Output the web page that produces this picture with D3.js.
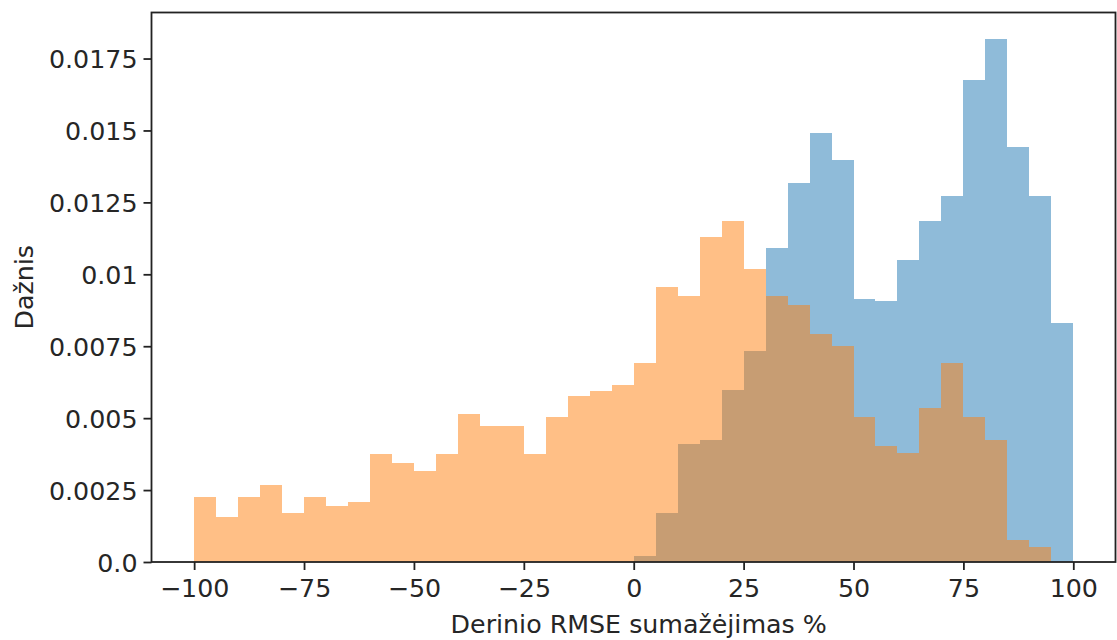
<!DOCTYPE html>
<html>
<head>
<meta charset="utf-8">
<script src="https://cdn.jsdelivr.net/npm/d3@7"></script>
<style>
  body { margin: 0; background: #fff; }
  text { font-family: "DejaVu Sans", sans-serif; fill: #262626; }
</style>
</head>
<body>
<section></section>
<script>
// bin edges: -100 .. 100 step 5
const binStarts = [-100, -95, -90, -85, -80, -75, -70, -65, -60, -55, -50, -45, -40, -35, -30, -25, -20, -15, -10, -5,
  0, 5, 10, 15, 20, 25, 30, 35, 40, 45, 50, 55, 60, 65, 70, 75, 80, 85, 90, 95];
const binWidth = 5;

const blueValues = [0, 0, 0, 0, 0, 0, 0, 0, 0, 0, 0, 0, 0, 0, 0, 0, 0, 0, 0, 0,
  0.00021, 0.00169, 0.00411, 0.00424, 0.00597, 0.00733, 0.01093, 0.01316, 0.01490, 0.01397,
  0.00913, 0.00907, 0.01049, 0.01185, 0.01273, 0.01676, 0.01818, 0.01441, 0.01273, 0.00832];

const orangeValues = [0.00225, 0.00157, 0.00225, 0.00269, 0.00169, 0.00225, 0.00194, 0.00207, 0.00374, 0.00343,
  0.00318, 0.00374, 0.00516, 0.00473, 0.00473, 0.00374, 0.00505, 0.00578, 0.00596, 0.00615,
  0.00690, 0.00956, 0.00926, 0.01130, 0.01185, 0.01020, 0.00925, 0.00895, 0.00794, 0.00751,
  0.00505, 0.00404, 0.00380, 0.00535, 0.00690, 0.00504, 0.00423, 0.00076, 0.00052, 0];

const xTicks = [-100, -75, -50, -25, 0, 25, 50, 75, 100];
const yTicks = [0, 0.0025, 0.005, 0.0075, 0.01, 0.0125, 0.015, 0.0175];
const yTickLabels = ["0.0", "0.0025", "0.005", "0.0075", "0.01", "0.0125", "0.015", "0.0175"];

const W = 1117, H = 640;
const axLeft = 151.5, axRight = 1115.5, axTop = 12.5, axBottom = 562;
const fontSize = "25.3px";

const x = d3.scaleLinear().domain([-109.7, 109.6]).range([axLeft, axRight]);
const y = d3.scaleLinear().domain([0, 0.0191]).range([axBottom, axTop]);

const svg = d3.select("section").append("svg")
  .attr("width", W)
  .attr("height", H);

const drawBars = (values, color) => {
  svg.append("g")
    .selectAll("rect")
    .data(values.map((v, i) => ({ x0: binStarts[i], v })).filter(d => d.v > 0))
    .enter()
    .append("rect")
    .attr("x", d => x(d.x0))
    .attr("y", d => y(d.v))
    .attr("width", d => x(d.x0 + binWidth) - x(d.x0))
    .attr("height", d => y(0) - y(d.v))
    .attr("fill", color)
    .attr("fill-opacity", 0.5)
    .attr("shape-rendering", "crispEdges");
};

drawBars(blueValues, "#1f77b4");
drawBars(orangeValues, "#ff7f0e");

// axes
const xAxis = d3.axisBottom(x)
  .tickValues(xTicks)
  .tickSize(8)
  .tickPadding(9)
  .tickFormat(d => d < 0 ? "\u2212" + Math.abs(d) : d);

const yAxis = d3.axisLeft(y)
  .tickValues(yTicks)
  .tickSize(8)
  .tickPadding(6)
  .tickFormat((d, i) => yTickLabels[i]);

const gx = svg.append("g")
  .attr("transform", `translate(0,${axBottom})`)
  .call(xAxis);
const gy = svg.append("g")
  .attr("transform", `translate(${axLeft},0)`)
  .call(yAxis);

[gx, gy].forEach(g => {
  g.select(".domain").remove();
  g.selectAll(".tick line").attr("stroke", "#222").attr("stroke-width", 1.8);
  g.selectAll(".tick text")
    .attr("fill", "#262626")
    .style("font-size", fontSize)
    .style("font-family", "DejaVu Sans, sans-serif");
});
gy.selectAll(".tick text").attr("dy", "0.36em");

// frame
svg.append("rect")
  .attr("x", axLeft)
  .attr("y", axTop)
  .attr("width", axRight - axLeft)
  .attr("height", axBottom - axTop)
  .attr("fill", "none")
  .attr("stroke", "#222")
  .attr("stroke-width", 1.8);

svg.append("text")
  .attr("text-anchor", "middle")
  .attr("x", x(0) + 5)
  .attr("y", 633)
  .style("font-size", fontSize)
  .text("Derinio RMSE sumažėjimas %");

svg.append("text")
  .attr("text-anchor", "middle")
  .attr("transform", `translate(33,${(axTop + axBottom) / 2}) rotate(-90)`)
  .style("font-size", fontSize)
  .text("Dažnis");
</script>
</body>
</html>
